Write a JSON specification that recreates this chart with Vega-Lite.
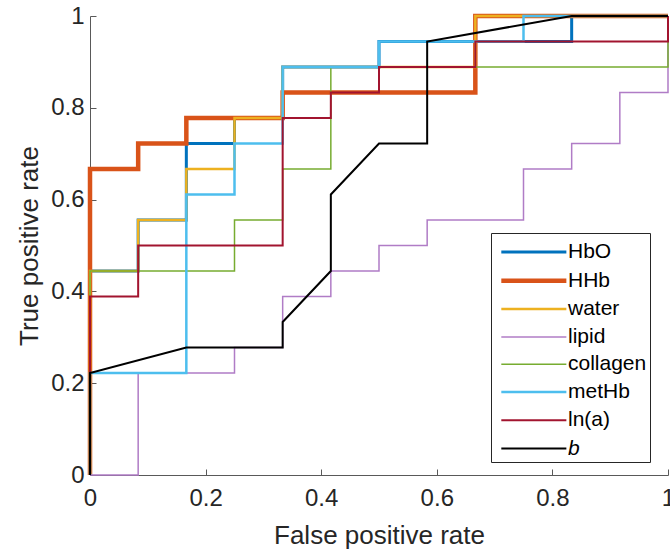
{
  "$schema": "https://vega.github.io/schema/vega-lite/v6.json",
  "width": 578,
  "height": 459,
  "autosize": "none",
  "padding": {"left": 90, "top": 16, "right": 2, "bottom": 77},
  "background": "white",
  "config": {
    "view": {"stroke": null},
    "font": "Liberation Sans",
    "axis": {
      "domainColor": "#595959",
      "tickColor": "#595959",
      "labelColor": "#262626",
      "titleColor": "#262626",
      "labelFont": "Liberation Sans",
      "titleFont": "Liberation Sans",
      "labelFontSize": 24,
      "titleFontSize": 26,
      "titleFontWeight": "normal",
      "grid": false,
      "tickSize": -6
    },
    "legend": {
      "labelFont": "Liberation Sans",
      "labelFontSize": 21,
      "labelColor": "#000000"
    }
  },
  "data": {
    "values": [
      {"series": "HbO", "i": 0, "fpr": 0, "tpr": 0},
      {"series": "HbO", "i": 1, "fpr": 0, "tpr": 0.44444},
      {"series": "HbO", "i": 2, "fpr": 0.08333, "tpr": 0.44444},
      {"series": "HbO", "i": 3, "fpr": 0.08333, "tpr": 0.55556},
      {"series": "HbO", "i": 4, "fpr": 0.16667, "tpr": 0.55556},
      {"series": "HbO", "i": 5, "fpr": 0.16667, "tpr": 0.72222},
      {"series": "HbO", "i": 6, "fpr": 0.25, "tpr": 0.72222},
      {"series": "HbO", "i": 7, "fpr": 0.25, "tpr": 0.77778},
      {"series": "HbO", "i": 8, "fpr": 0.33333, "tpr": 0.77778},
      {"series": "HbO", "i": 9, "fpr": 0.33333, "tpr": 0.88889},
      {"series": "HbO", "i": 10, "fpr": 0.5, "tpr": 0.88889},
      {"series": "HbO", "i": 11, "fpr": 0.5, "tpr": 0.94444},
      {"series": "HbO", "i": 12, "fpr": 0.83333, "tpr": 0.94444},
      {"series": "HbO", "i": 13, "fpr": 0.83333, "tpr": 1},
      {"series": "HbO", "i": 14, "fpr": 1, "tpr": 1},

      {"series": "HHb", "i": 0, "fpr": 0, "tpr": 0},
      {"series": "HHb", "i": 1, "fpr": 0, "tpr": 0.66667},
      {"series": "HHb", "i": 2, "fpr": 0.08333, "tpr": 0.66667},
      {"series": "HHb", "i": 3, "fpr": 0.08333, "tpr": 0.72222},
      {"series": "HHb", "i": 4, "fpr": 0.16667, "tpr": 0.72222},
      {"series": "HHb", "i": 5, "fpr": 0.16667, "tpr": 0.77778},
      {"series": "HHb", "i": 6, "fpr": 0.33333, "tpr": 0.77778},
      {"series": "HHb", "i": 7, "fpr": 0.33333, "tpr": 0.83333},
      {"series": "HHb", "i": 8, "fpr": 0.66667, "tpr": 0.83333},
      {"series": "HHb", "i": 9, "fpr": 0.66667, "tpr": 1},
      {"series": "HHb", "i": 10, "fpr": 1, "tpr": 1},

      {"series": "water", "i": 0, "fpr": 0, "tpr": 0},
      {"series": "water", "i": 1, "fpr": 0, "tpr": 0.44444},
      {"series": "water", "i": 2, "fpr": 0.08333, "tpr": 0.44444},
      {"series": "water", "i": 3, "fpr": 0.08333, "tpr": 0.55556},
      {"series": "water", "i": 4, "fpr": 0.16667, "tpr": 0.55556},
      {"series": "water", "i": 5, "fpr": 0.16667, "tpr": 0.66667},
      {"series": "water", "i": 6, "fpr": 0.25, "tpr": 0.66667},
      {"series": "water", "i": 7, "fpr": 0.25, "tpr": 0.77778},
      {"series": "water", "i": 8, "fpr": 0.33333, "tpr": 0.77778},
      {"series": "water", "i": 9, "fpr": 0.33333, "tpr": 0.88889},
      {"series": "water", "i": 10, "fpr": 0.66667, "tpr": 0.88889},
      {"series": "water", "i": 11, "fpr": 0.66667, "tpr": 1},
      {"series": "water", "i": 12, "fpr": 1, "tpr": 1},

      {"series": "lipid", "i": 0, "fpr": 0, "tpr": 0},
      {"series": "lipid", "i": 1, "fpr": 0.08333, "tpr": 0},
      {"series": "lipid", "i": 2, "fpr": 0.08333, "tpr": 0.22222},
      {"series": "lipid", "i": 3, "fpr": 0.25, "tpr": 0.22222},
      {"series": "lipid", "i": 4, "fpr": 0.25, "tpr": 0.27778},
      {"series": "lipid", "i": 5, "fpr": 0.33333, "tpr": 0.27778},
      {"series": "lipid", "i": 6, "fpr": 0.33333, "tpr": 0.38889},
      {"series": "lipid", "i": 7, "fpr": 0.41667, "tpr": 0.38889},
      {"series": "lipid", "i": 8, "fpr": 0.41667, "tpr": 0.44444},
      {"series": "lipid", "i": 9, "fpr": 0.5, "tpr": 0.44444},
      {"series": "lipid", "i": 10, "fpr": 0.5, "tpr": 0.5},
      {"series": "lipid", "i": 11, "fpr": 0.58333, "tpr": 0.5},
      {"series": "lipid", "i": 12, "fpr": 0.58333, "tpr": 0.55556},
      {"series": "lipid", "i": 13, "fpr": 0.75, "tpr": 0.55556},
      {"series": "lipid", "i": 14, "fpr": 0.75, "tpr": 0.66667},
      {"series": "lipid", "i": 15, "fpr": 0.83333, "tpr": 0.66667},
      {"series": "lipid", "i": 16, "fpr": 0.83333, "tpr": 0.72222},
      {"series": "lipid", "i": 17, "fpr": 0.91667, "tpr": 0.72222},
      {"series": "lipid", "i": 18, "fpr": 0.91667, "tpr": 0.83333},
      {"series": "lipid", "i": 19, "fpr": 1, "tpr": 0.83333},
      {"series": "lipid", "i": 20, "fpr": 1, "tpr": 1},

      {"series": "collagen", "i": 0, "fpr": 0, "tpr": 0},
      {"series": "collagen", "i": 1, "fpr": 0, "tpr": 0.44444},
      {"series": "collagen", "i": 2, "fpr": 0.25, "tpr": 0.44444},
      {"series": "collagen", "i": 3, "fpr": 0.25, "tpr": 0.55556},
      {"series": "collagen", "i": 4, "fpr": 0.33333, "tpr": 0.55556},
      {"series": "collagen", "i": 5, "fpr": 0.33333, "tpr": 0.66667},
      {"series": "collagen", "i": 6, "fpr": 0.41667, "tpr": 0.66667},
      {"series": "collagen", "i": 7, "fpr": 0.41667, "tpr": 0.88889},
      {"series": "collagen", "i": 8, "fpr": 1, "tpr": 0.88889},
      {"series": "collagen", "i": 9, "fpr": 1, "tpr": 1},

      {"series": "metHb", "i": 0, "fpr": 0, "tpr": 0},
      {"series": "metHb", "i": 1, "fpr": 0, "tpr": 0.22222},
      {"series": "metHb", "i": 2, "fpr": 0.16667, "tpr": 0.22222},
      {"series": "metHb", "i": 3, "fpr": 0.16667, "tpr": 0.61111},
      {"series": "metHb", "i": 4, "fpr": 0.25, "tpr": 0.61111},
      {"series": "metHb", "i": 5, "fpr": 0.25, "tpr": 0.72222},
      {"series": "metHb", "i": 6, "fpr": 0.33333, "tpr": 0.72222},
      {"series": "metHb", "i": 7, "fpr": 0.33333, "tpr": 0.88889},
      {"series": "metHb", "i": 8, "fpr": 0.5, "tpr": 0.88889},
      {"series": "metHb", "i": 9, "fpr": 0.5, "tpr": 0.94444},
      {"series": "metHb", "i": 10, "fpr": 0.75, "tpr": 0.94444},
      {"series": "metHb", "i": 11, "fpr": 0.75, "tpr": 1},
      {"series": "metHb", "i": 12, "fpr": 1, "tpr": 1},

      {"series": "ln(a)", "i": 0, "fpr": 0, "tpr": 0},
      {"series": "ln(a)", "i": 1, "fpr": 0, "tpr": 0.38889},
      {"series": "ln(a)", "i": 2, "fpr": 0.08333, "tpr": 0.38889},
      {"series": "ln(a)", "i": 3, "fpr": 0.08333, "tpr": 0.5},
      {"series": "ln(a)", "i": 4, "fpr": 0.33333, "tpr": 0.5},
      {"series": "ln(a)", "i": 5, "fpr": 0.33333, "tpr": 0.77778},
      {"series": "ln(a)", "i": 6, "fpr": 0.41667, "tpr": 0.77778},
      {"series": "ln(a)", "i": 7, "fpr": 0.41667, "tpr": 0.83333},
      {"series": "ln(a)", "i": 8, "fpr": 0.5, "tpr": 0.83333},
      {"series": "ln(a)", "i": 9, "fpr": 0.5, "tpr": 0.88889},
      {"series": "ln(a)", "i": 10, "fpr": 0.66667, "tpr": 0.88889},
      {"series": "ln(a)", "i": 11, "fpr": 0.66667, "tpr": 0.94444},
      {"series": "ln(a)", "i": 12, "fpr": 1, "tpr": 0.94444},
      {"series": "ln(a)", "i": 13, "fpr": 1, "tpr": 1},

      {"series": "b", "i": 0, "fpr": 0, "tpr": 0},
      {"series": "b", "i": 1, "fpr": 0, "tpr": 0.22222},
      {"series": "b", "i": 2, "fpr": 0.16667, "tpr": 0.27778},
      {"series": "b", "i": 3, "fpr": 0.33333, "tpr": 0.27778},
      {"series": "b", "i": 4, "fpr": 0.33333, "tpr": 0.33333},
      {"series": "b", "i": 5, "fpr": 0.41667, "tpr": 0.44444},
      {"series": "b", "i": 6, "fpr": 0.41667, "tpr": 0.61111},
      {"series": "b", "i": 7, "fpr": 0.5, "tpr": 0.72222},
      {"series": "b", "i": 8, "fpr": 0.58333, "tpr": 0.72222},
      {"series": "b", "i": 9, "fpr": 0.58333, "tpr": 0.94444},
      {"series": "b", "i": 10, "fpr": 0.83333, "tpr": 1},
      {"series": "b", "i": 11, "fpr": 1, "tpr": 1}
    ]
  },
  "mark": {"type": "line", "strokeJoin": "miter", "strokeCap": "butt", "clip": false},
  "encoding": {
    "x": {
      "field": "fpr", "type": "quantitative",
      "scale": {"domain": [0, 1], "nice": false, "zero": false},
      "axis": {"title": "False positive rate", "values": [0, 0.2, 0.4, 0.6, 0.8, 1], "format": "~g", "labelPadding": 17, "titlePadding": 12, "labelFlush": false}
    },
    "y": {
      "field": "tpr", "type": "quantitative",
      "scale": {"domain": [0, 1], "nice": false, "zero": false},
      "axis": {"title": "True positive rate", "values": [0, 0.2, 0.4, 0.6, 0.8, 1], "format": "~g", "labelPadding": 12, "titlePadding": 8, "labelFlush": false}
    },
    "order": {"field": "i", "type": "quantitative"},
    "color": {
      "field": "series", "type": "nominal",
      "scale": {
        "domain": ["HbO", "HHb", "water", "lipid", "collagen", "metHb", "ln(a)", "b"],
        "range": ["#0072BD", "#D95319", "#EDB120", "#B07CC6", "#77AC30", "#4DBEEE", "#A2142F", "#000000"]
      },
      "legend": {
        "title": null,
        "orient": "none",
        "legendX": 401,
        "legendY": 217,
        "direction": "vertical",
        "columns": 1,
        "symbolType": "M-0.65,0H3.95",
        "symbolSize": 800,
        "strokeColor": "#262626",
        "fillColor": "white",
        "padding": 3,
        "rowPadding": 2.3,
        "columnPadding": 0,
        "labelOffset": 41,
        "labelLimit": 90,
        "encode": {"labels": {"update": {"fontStyle": {"signal": "datum.label === 'b' ? 'italic' : 'normal'"}}}}
      }
    },
    "strokeWidth": {
      "field": "series", "type": "nominal",
      "scale": {
        "type": "ordinal",
        "domain": ["HbO", "HHb", "water", "lipid", "collagen", "metHb", "ln(a)", "b"],
        "range": [3, 4.5, 2.5, 1.5, 1.5, 2.5, 2, 2]
      },
      "legend": {
        "title": null,
        "orient": "none",
        "legendX": 401,
        "legendY": 217,
        "direction": "vertical",
        "columns": 1,
        "symbolType": "M-0.65,0H3.95",
        "symbolSize": 800,
        "strokeColor": "#262626",
        "fillColor": "white",
        "padding": 3,
        "rowPadding": 2.3,
        "columnPadding": 0,
        "labelOffset": 41,
        "labelLimit": 90,
        "encode": {"labels": {"update": {"fontStyle": {"signal": "datum.label === 'b' ? 'italic' : 'normal'"}}}}
      }
    }
  }
}
